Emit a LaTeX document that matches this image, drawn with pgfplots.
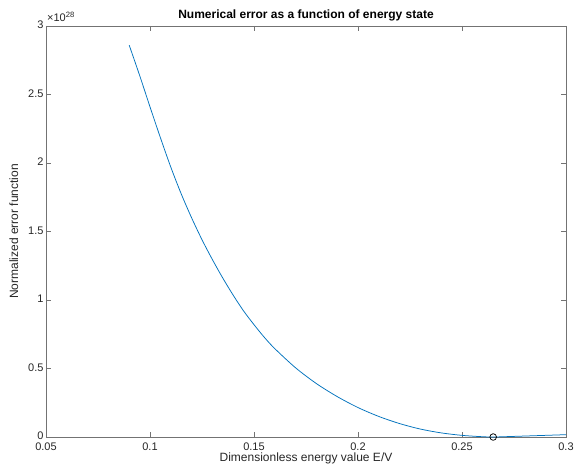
\documentclass[border=0pt]{standalone}
\usepackage{fontspec}
\setmainfont{Liberation Sans}
\usepackage{pgfplots}
\pgfplotsset{compat=1.18}
\definecolor{mblue}{rgb}{0,0.447,0.741}
\definecolor{axgray}{rgb}{0.15,0.15,0.15}
\begin{document}
\begin{tikzpicture}[x=1pt,y=1pt]
\begin{axis}[
  at={(0pt,0pt)}, anchor=south west,
  scale only axis, width=520pt, height=411pt,
  xmin=0.05, xmax=0.3, ymin=0, ymax=3,
  xtick={0.05,0.1,0.15,0.2,0.25,0.3},
  ytick={0,0.5,1,1.5,2,2.5,3},
  xticklabels={0.05,0.1,0.15,0.2,0.25,0.3},
  yticklabels={0,0.5,1,1.5,2,2.5,3},
  tick align=inside,
  major tick length=5pt,
  axis line style={black!55, line width=0.6pt},
  every tick/.style={black!55, line width=0.6pt},
  tick label style={font=\fontsize{11}{12}\selectfont, text=axgray},
  xticklabel style={yshift=-2.5pt},
  yticklabel style={xshift=1pt, yshift=1pt},
  label style={font=\fontsize{12}{14}\selectfont, text=axgray},
  title style={font=\fontsize{12}{14}\selectfont\bfseries, yshift=-5pt},
  title={Numerical error as a function of energy state},
  xlabel={Dimensionless energy value E/V},
  ylabel={Normalized error function},
  xlabel style={yshift=5pt},
  ylabel style={yshift=3pt},
  clip=false,
]
\addplot[mblue, line width=0.75pt, smooth, tension=0.5] coordinates {
(0.09,2.86) (0.095,2.64) (0.10,2.41) (0.105,2.185) (0.11,1.97) (0.115,1.775)
(0.12,1.60) (0.125,1.44) (0.13,1.295) (0.135,1.16) (0.14,1.035) (0.145,0.92)
(0.15,0.82) (0.155,0.727) (0.16,0.645) (0.17,0.505) (0.18,0.39) (0.19,0.295)
(0.20,0.215) (0.21,0.150) (0.22,0.098) (0.23,0.058) (0.24,0.030) (0.25,0.012)
(0.26,0.002) (0.265,0) (0.27,0.002) (0.28,0.007) (0.29,0.012) (0.30,0.017)
};
\addplot[black, only marks, mark=o, mark size=3.3pt, line width=0.75pt] coordinates {(0.265,0)};
\node[anchor=south west, text=axgray, font=\fontsize{11}{12}\selectfont, inner sep=0pt] at (rel axis cs:0,1) [xshift=1pt, yshift=4pt] {×10\textsuperscript{28}};
\end{axis}
\pgfresetboundingbox
\useasboundingbox (-46pt,-35pt) rectangle (529pt,437pt);
\end{tikzpicture}
\end{document}
